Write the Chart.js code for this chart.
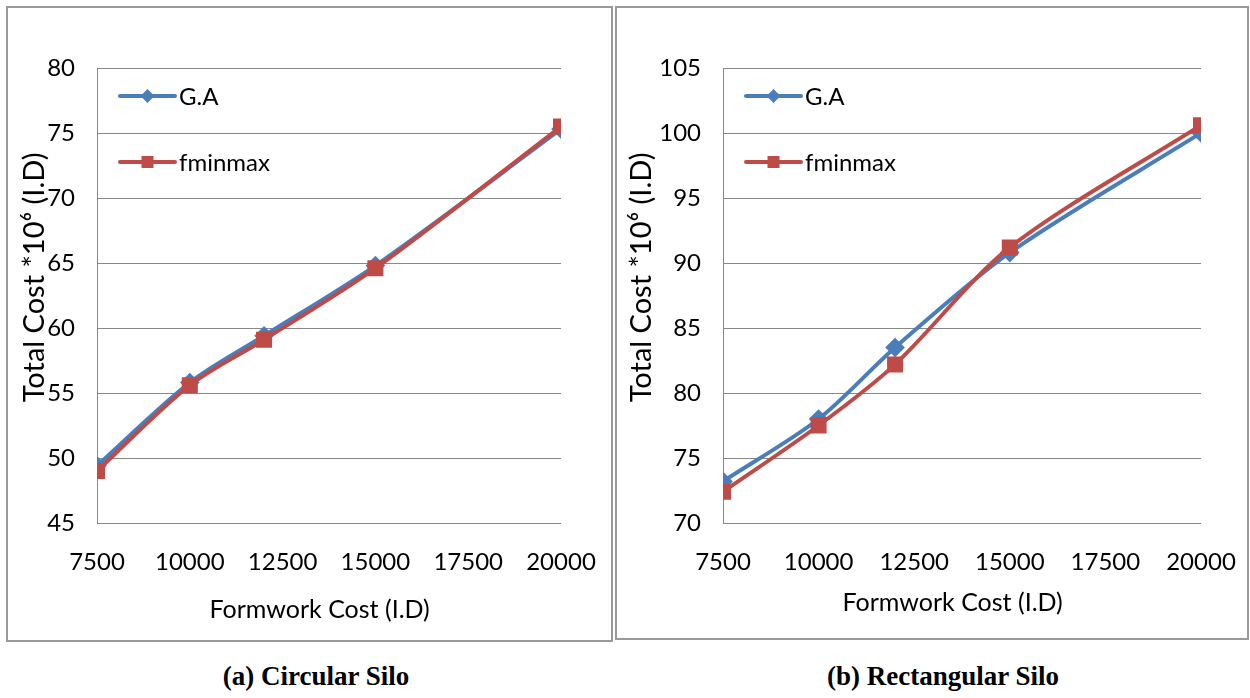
<!DOCTYPE html>
<html>
<head>
<meta charset="utf-8">
<script src="https://cdn.jsdelivr.net/npm/chart.js@4.4.1/dist/chart.umd.min.js"></script>
<style>
  body { margin: 0; background: #fff; width: 1250px; height: 698px; position: relative; overflow: hidden; }
  .box { position: absolute; border: 2px solid #999; box-sizing: border-box; }
  canvas { position: absolute; }
  .caption { position: absolute; font-family: "Liberation Serif", serif; font-weight: bold; font-size: 27px; text-align: center; width: 400px; }
</style>
</head>
<body>
<div class="box" style="left:6px;top:6px;width:607px;height:636px"></div>
<div class="box" style="left:615px;top:6px;width:634px;height:634px"></div>
<canvas id="circular" width="604" height="632" style="left:7px;top:7px"></canvas>
<canvas id="rectangular" width="629" height="630" style="left:617px;top:7px"></canvas>
<div class="caption" style="left:116px;top:661px">(a) Circular Silo</div>
<div class="caption" style="left:743px;top:661px">(b) Rectangular Silo</div>
<script>
const formworkCost = [7500, 10000, 12000, 15000, 20000];
const xRange = [7500, 20000, 2500];
const seriesNames = ['G.A', 'fminmax'];

const circularGA = [49.4, 55.8, 59.4, 64.8, 75.3];
const circularFminmax = [49.0, 55.6, 59.1, 64.6, 75.5];
const circularYRange = [45, 80, 5];

const rectGA = [73.2, 78.0, 83.5, 90.8, 100.0];
const rectFminmax = [72.4, 77.5, 82.2, 91.2, 100.6];
const rectYRange = [70, 105, 5];

const blue = '#4a7ebb';
const red = '#be4b48';
const font = 'Lato';

// legend drawn inside the plot area, like the Excel original
const innerLegend = {
  id: 'innerLegend',
  afterDatasetsDraw(chart) {
    const ctx = chart.ctx;
    const area = chart.chartArea;
    const sets = chart.data.datasets;
    ctx.save();
    sets.forEach((ds, i) => {
      const x0 = area.left + 23;
      const x1 = x0 + 55;
      const y = area.top + 28 + i * 66;
      ctx.strokeStyle = ds.borderColor;
      ctx.lineWidth = 4;
      ctx.lineCap = 'round';
      ctx.beginPath();
      ctx.moveTo(x0, y);
      ctx.lineTo(x1, y);
      ctx.stroke();
      const cx = (x0 + x1) / 2;
      ctx.fillStyle = ds.borderColor;
      ctx.beginPath();
      if (ds.pointStyle === 'rect') {
        const s = ds.pointRadius * Math.SQRT1_2;
        ctx.rect(cx - s, y - s, 2 * s, 2 * s);
      } else {
        const r = ds.pointRadius;
        ctx.moveTo(cx - r, y);
        ctx.lineTo(cx, y - r);
        ctx.lineTo(cx + r, y);
        ctx.lineTo(cx, y + r);
        ctx.closePath();
      }
      ctx.fill();
      ctx.fillStyle = '#000';
      ctx.font = '24px ' + font;
      ctx.textBaseline = 'middle';
      ctx.textAlign = 'left';
      ctx.fillText(ds.label, x1 + 4, y + 1);
    });
    ctx.restore();
  }
};

function makeChart(id, ga, fm, yRange, box) {
  const toPoints = vals => vals.map((v, i) => ({ x: formworkCost[i], y: v }));
  new Chart(document.getElementById(id), {
    type: 'line',
    data: {
      datasets: [
        {
          label: seriesNames[0],
          data: toPoints(ga),
          borderColor: blue,
          backgroundColor: blue,
          borderWidth: 4,
          pointStyle: 'rectRot',
          pointRadius: 7,
          tension: 0.3,
          order: 2
        },
        {
          label: seriesNames[1],
          data: toPoints(fm),
          borderColor: red,
          backgroundColor: red,
          borderWidth: 4,
          pointStyle: 'rect',
          pointRadius: 8.5,
          tension: 0.3,
          order: 1
        }
      ]
    },
    options: {
      responsive: false,
      animation: false,
      events: [],
      layout: { padding: { left: 0, top: 61, right: box.padRight, bottom: 0 } },
      plugins: { legend: { display: false }, tooltip: { enabled: false } },
      scales: {
        x: {
          type: 'linear',
          min: xRange[0],
          max: xRange[1],
          afterBuildTicks: s => {
            s.ticks = [];
            for (let v = xRange[0]; v <= xRange[1]; v += xRange[2]) s.ticks.push({ value: v });
          },
          afterFit: s => {
            s.height = box.xHeight;
            s.paddingLeft = 0;
            s.paddingRight = 0;
          },
          grid: { display: false },
          border: { display: false },
          ticks: {
            color: '#000',
            padding: 17,
            maxRotation: 0,
            font: { family: font, size: 24 },
            callback: v => String(v)
          },
          title: {
            display: true,
            text: 'Formwork Cost (I.D)\u2003',
            color: '#000',
            font: { family: font, size: 25 },
            padding: { top: 0, bottom: box.xTitlePad }
          }
        },
        y: {
          min: yRange[0],
          max: yRange[1],
          afterFit: s => { s.width = box.yWidth; },
          grid: { color: '#888', lineWidth: 1, drawTicks: false },
          border: { display: true, color: '#888', width: 1 },
          ticks: {
            stepSize: yRange[2],
            color: '#000',
            padding: 22,
            font: { family: font, size: 24 }
          },
          title: {
            display: true,
            text: '\u2003\u2002Total Cost *10\u2076 (I.D)',
            color: '#000',
            font: { family: font, size: 29 },
            padding: { top: box.yTitlePad, bottom: 0 }
          }
        }
      }
    },
    plugins: [innerLegend]
  });
}

makeChart('circular', circularGA, circularFminmax, circularYRange,
  { padRight: 50, xHeight: 116, xTitlePad: 14, yWidth: 90, yTitlePad: 10 });
makeChart('rectangular', rectGA, rectFminmax, rectYRange,
  { padRight: 45, xHeight: 114, xTitlePad: 19, yWidth: 106, yTitlePad: 7 });
</script>
</body>
</html>
